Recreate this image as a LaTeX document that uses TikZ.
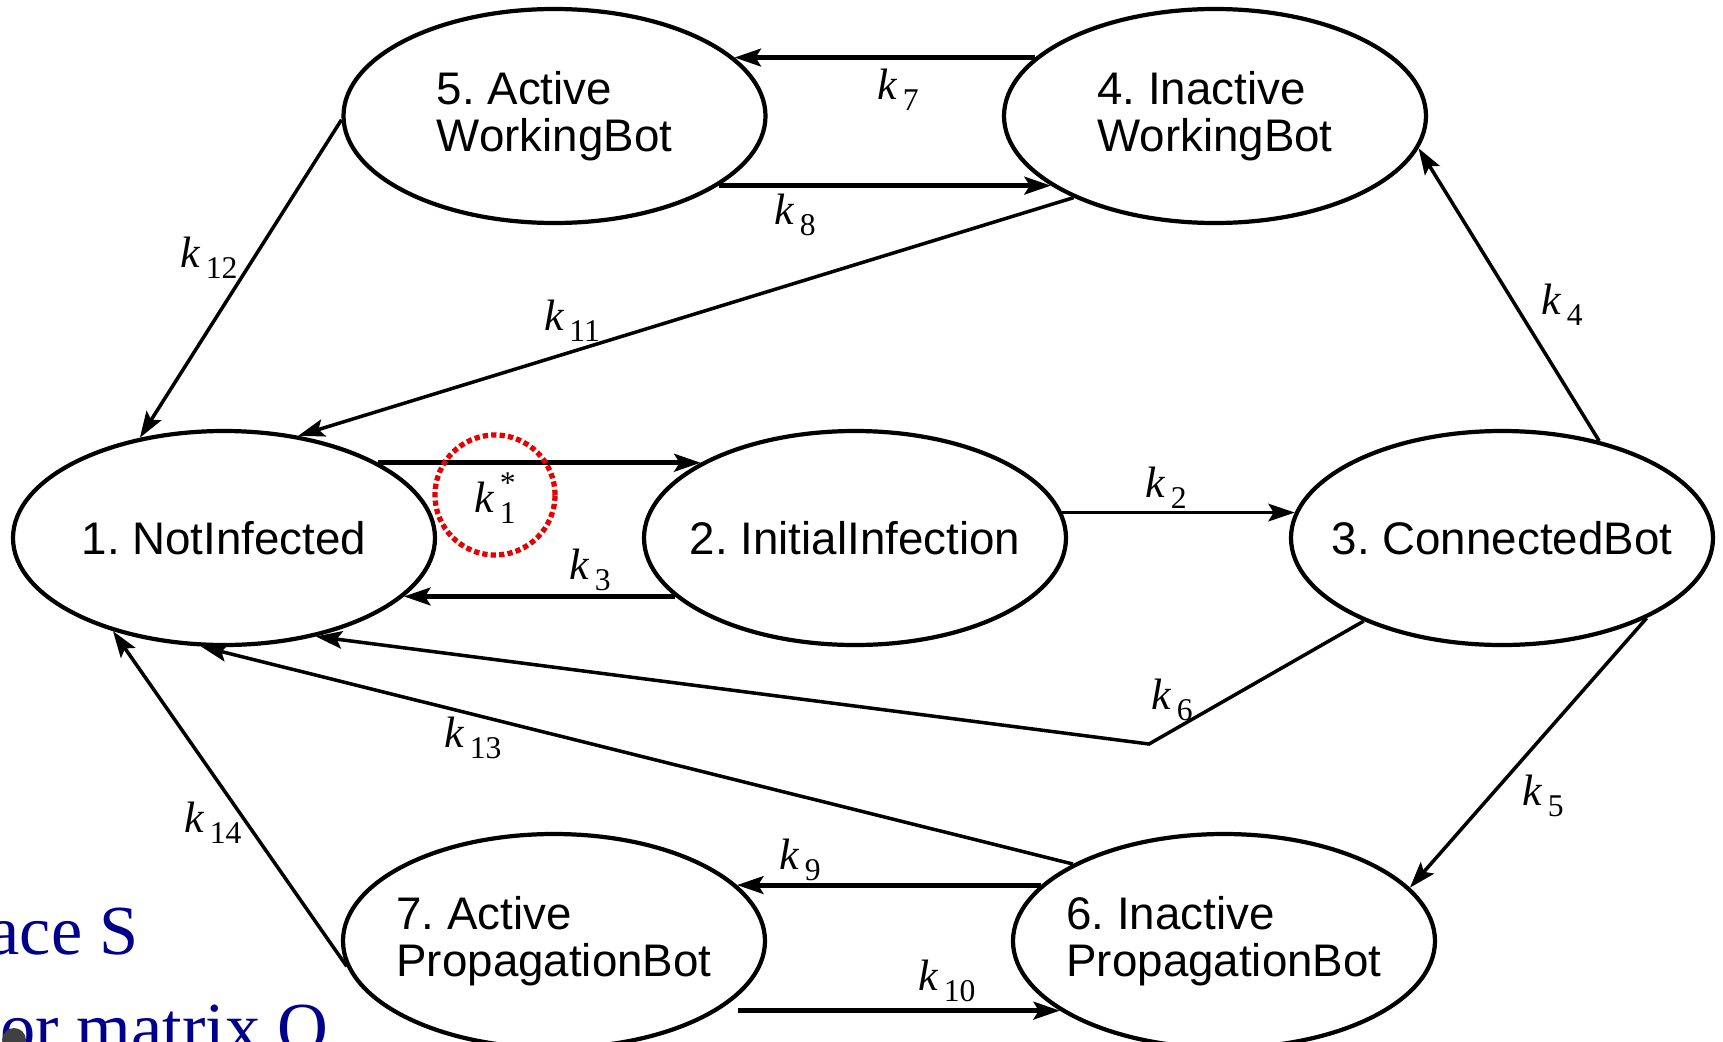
\documentclass[tikz,border=0pt]{standalone}
\usepackage{fontspec}
\setmainfont{Liberation Serif}
\newfontfamily\statefont{Liberation Sans}
\usetikzlibrary{shapes.geometric, arrows, arrows.meta, positioning}
\definecolor{slideblue}{RGB}{0,0,140}
\definecolor{markred}{RGB}{230,0,0}
\frenchspacing
\newcommand{\krate}[2][]{\textit{k}\kern0.12em\raisebox{-0.25em}{\fontsize{9}{9}\selectfont\rlap{\raisebox{0.95em}{#1}}#2}}
\tikzstyle{state} = [
  ellipse,
  draw=black,
  line width=1.2pt,
  minimum width=4.22cm,
  minimum height=2.14cm,
  inner xsep=-6mm,
  inner ysep=0pt,
  align=left,
  font=\statefont\fontsize{13}{13.5}\selectfont
]
\tikzstyle{rate} = [inner sep=0pt, font=\fontsize{12.5}{12.5}\selectfont]
\tikzstyle{arrow} = [line width=1pt, -{Stealth[length=7.5pt,width=5pt,inset=1.5pt]}]
\tikzstyle{harrow} = [arrow, line width=1.4pt]
\tikzstyle{ringmark} = [
  circle,
  draw=markred,
  line width=1.5pt,
  dash pattern=on 1.5pt off 0.9pt,
  minimum size=1.2cm,
  inner sep=0pt
]
\tikzstyle{slide} = [inner sep=0pt, text=slideblue, font=\fontsize{20}{24}\selectfont]

\begin{document}
\begin{tikzpicture}[node distance=6.4cm]
    \fill [white] (0,0) rectangle (17.23,-10.42);
    \useasboundingbox (0,0) rectangle (17.23,-10.42);

    \node (notinfected) [state] at (2.24,-5.38) {1. NotInfected};
    \node (initial) [state, right of=notinfected, xshift=-0.09cm] {2. InitialInfection};
    \node (connected) [state, right of=initial, xshift=0.07cm] {3. ConnectedBot};
    \node (activework) [state] at (5.545,-1.16) {5. Active\\WorkingBot};
    \node (inactivework) [state, right of=activework, xshift=0.205cm] {4. Inactive\\WorkingBot};
    \node (activeprop) [state] at (5.54,-9.41) {7. Active\\PropagationBot};
    \node (inactiveprop) [state, right of=activeprop, xshift=0.3cm] {6. Inactive\\PropagationBot};
    \coordinate (bend) at (11.49,-7.44);

    \draw [harrow] (inactivework.162) -- (activework.18);
    \draw [harrow] (activework.-23) -- (inactivework.203);
    \draw [arrow] (activework.181) -- (notinfected.130);
    \draw [arrow] (inactivework.210) -- (notinfected.54);
    \draw [arrow] (connected.45) -- (inactivework.-9);
    \draw [harrow] (notinfected.26) -- (initial.154);
    \draw [harrow] (initial.198) -- (notinfected.-18);
    \draw [arrow] (initial.7) -- (connected.173);
    \draw [arrow] (connected.-29) -- (inactiveprop.16);
    \draw [arrow] (connected.211) -- (bend) -- (notinfected.-47);
    \draw [arrow] (inactiveprop.153) -- (notinfected.258);
    \draw [arrow] (activeprop.187) -- (notinfected.220);
    \draw [harrow] (inactiveprop.163) -- (activeprop.17);
    \draw [harrow, shorten <=2mm] (activeprop.-23) -- (inactiveprop.203);

    \node (k7) [rate] at (8.98,-0.90) {\krate{7}};
    \node (k8) [rate] at (7.95,-2.15) {\krate{8}};
    \node (k12) [rate] at (2.09,-2.58) {\krate{12}};
    \node (k11) [rate] at (5.72,-3.21) {\krate{11}};
    \node (k4) [rate] at (15.62,-3.05) {\krate{4}};
    \node (k1) [rate] at (4.95,-4.98) {\krate[*]{1}};
    \node (k3) [rate] at (5.90,-5.70) {\krate{3}};
    \node (k2) [rate] at (11.66,-4.88) {\krate{2}};
    \node (k6) [rate] at (11.72,-7.00) {\krate{6}};
    \node (k5) [rate] at (15.43,-7.96) {\krate{5}};
    \node (k13) [rate] at (4.73,-7.38) {\krate{13}};
    \node (k14) [rate] at (2.13,-8.23) {\krate{14}};
    \node (k9) [rate] at (8.00,-8.60) {\krate{9}};
    \node (k10) [rate] at (9.47,-9.81) {\krate{10}};
    \node (ring) [ringmark] at (4.95,-4.95) {};

    \node (spacetext) [slide, anchor=base west] at (-0.12,-9.54) {ace S};
    \node (matrixtext) [slide, anchor=base west] at (0,-10.51) {or matrix Q};
    \fill [black!75] (0.14,-10.40) circle (0.12);
\end{tikzpicture}
\end{document}
